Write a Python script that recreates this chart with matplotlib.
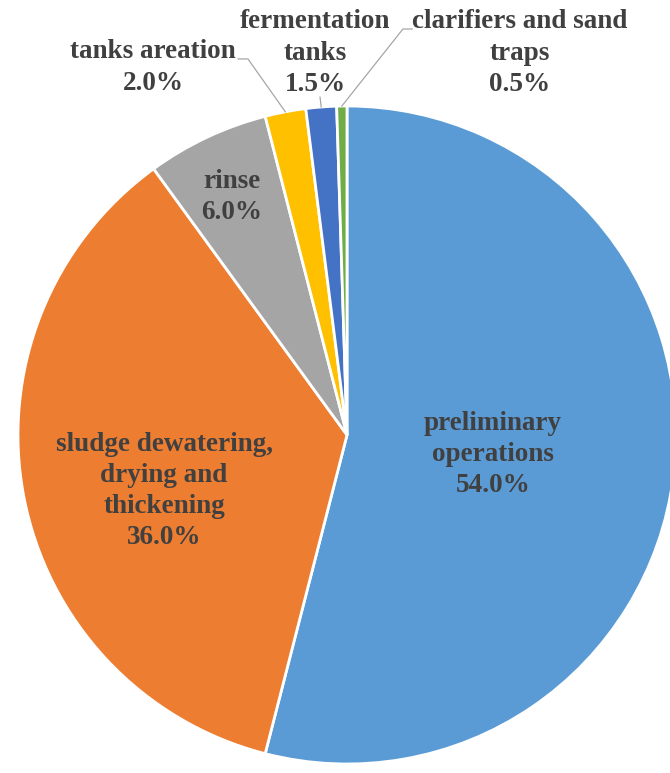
import matplotlib.pyplot as plt
import numpy as np

labels = ['preliminary\noperations', 'sludge dewatering,\ndrying and\nthickening', 'rinse',
          'tanks areation', 'fermentation\ntanks', 'clarifiers and sand\ntraps']
shares = [54.0, 36.0, 6.0, 2.0, 1.5, 0.5]
colors = ['#5B9BD5', '#ED7D31', '#A5A5A5', '#FFC000', '#4472C4', '#70AD47']

# label centres in pie units (radius 1)
label_pos = [(0.443, -0.058), (-0.556, -0.17), (-0.35, 0.723),
             (-0.59, 1.117), (-0.097, 1.161), (0.526, 1.161)]
# elbow of leader lines for the small outside slices (None = no leader)
elbows = [None, None, None, [(-0.331, 1.143), (-0.301, 1.143)],
          [(-0.082, 1.027)], [(0.198, 1.234), (0.17, 1.234)]]

plt.rcParams['font.family'] = ['Liberation Serif', 'DejaVu Serif']
txt_color = '#404040'

fig = plt.figure(figsize=(6.70, 7.73), dpi=100)
ax = fig.add_axes([18 / 670, 9 / 773, 658 / 670, 658 / 773])
wedges, _ = ax.pie(shares, colors=colors, startangle=90, counterclock=False, radius=1,
                   wedgeprops=dict(edgecolor='white', linewidth=2))
for w in wedges:
    w.set_clip_on(False)

for w, lab, val, pos, elb in zip(wedges, labels, shares, label_pos, elbows):
    ax.text(pos[0], pos[1], '%s\n%.1f%%' % (lab, val), ha='center', va='center',
            fontsize=19.5, fontweight='bold', color=txt_color, linespacing=1.32,
            clip_on=False)
    if elb is not None:
        ang = np.deg2rad((w.theta1 + w.theta2) / 2)
        xs = [p[0] for p in elb] + [np.cos(ang)]
        ys = [p[1] for p in elb] + [np.sin(ang)]
        ax.plot(xs, ys, color='#A6A6A6', lw=0.9, clip_on=False)

ax.set_xlim(-1, 1)
ax.set_ylim(-1, 1)
ax.set_aspect('equal')
ax.axis('off')

fig.savefig('out.png', dpi=100)
